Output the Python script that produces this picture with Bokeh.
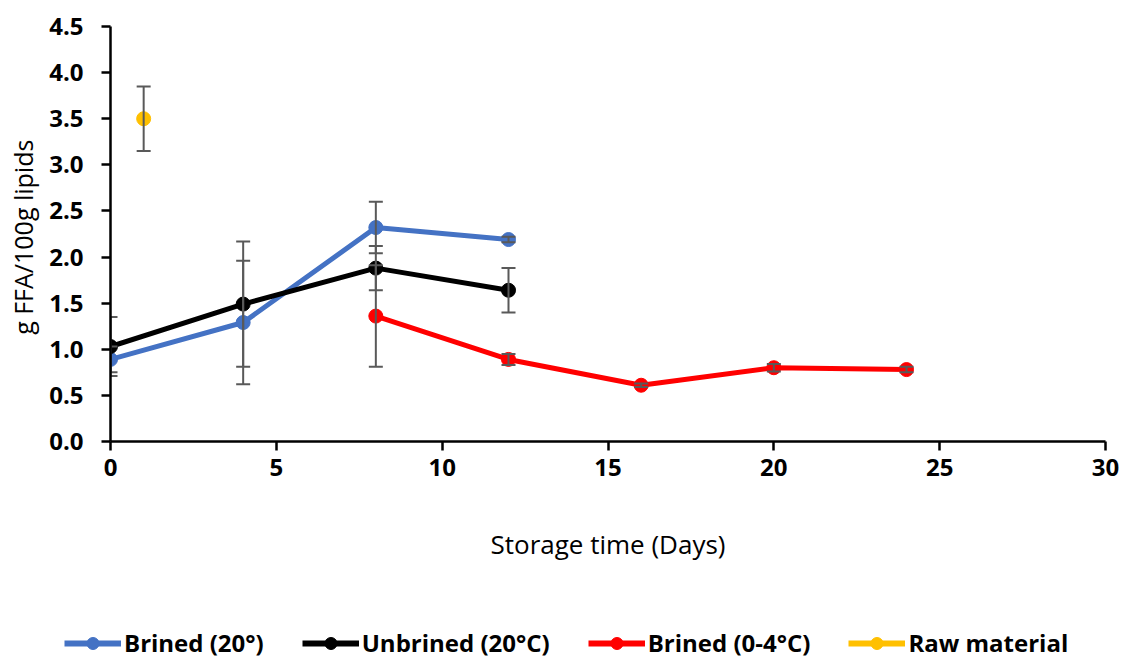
from bokeh.plotting import figure
from bokeh.layouts import column, row
from bokeh.models import (ColumnDataSource, Whisker, Legend, LegendItem, Range1d,
                          FixedTicker, TeeHead, NumeralTickFormatter)
from bokeh.embed import file_html
from bokeh.resources import INLINE

# Data
brined20_x = [0, 4, 8, 12]
brined20_y = [0.89, 1.29, 2.32, 2.19]
brined20_err = [0.14, 0.67, 0.28, 0.03]

unbrined_x = [0, 4, 8, 12]
unbrined_y = [1.03, 1.49, 1.88, 1.64]
unbrined_err = [0.32, 0.68, 0.24, 0.24]

brined04_x = [8, 12, 16, 20, 24]
brined04_y = [1.36, 0.89, 0.61, 0.80, 0.78]
brined04_err = [0.55, 0.06, 0.02, 0.04, 0.03]

raw_x = [1]
raw_y = [3.50]
raw_err = [0.35]

x_ticks = [0, 5, 10, 15, 20, 25, 30]
y_ticks = [0, 0.5, 1, 1.5, 2, 2.5, 3, 3.5, 4, 4.5]

series = [
    ("Brined (20°)", brined20_x, brined20_y, brined20_err, "#4472C4", True),
    ("Unbrined (20°C)", unbrined_x, unbrined_y, unbrined_err, "#000000", True),
    ("Brined (0-4°C)", brined04_x, brined04_y, brined04_err, "#FF0000", True),
    ("Raw material", raw_x, raw_y, raw_err, "#FFC000", False),
]

FONT = "Open Sans"
MAIN_H = 600

p = figure(width=1122, height=MAIN_H, output_backend="svg", toolbar_location=None,
           x_range=Range1d(0, 30), y_range=Range1d(0, 4.5),
           min_border_left=110, min_border_right=17, min_border_top=26,
           min_border_bottom=MAIN_H - 441)
p.outline_line_color = None
p.xgrid.grid_line_color = None
p.ygrid.grid_line_color = None

for ax in (p.xaxis, p.yaxis):
    ax.axis_line_color = "black"
    ax.axis_line_width = 2.5
    ax.major_tick_line_color = "black"
    ax.major_tick_line_width = 2.5
    ax.major_tick_out = 9
    ax.major_tick_in = 0
    ax.minor_tick_line_color = None
    ax.major_label_text_font = FONT
    ax.major_label_text_font_style = "bold"
    ax.major_label_text_font_size = "24px"
    ax.major_label_text_color = "black"
    ax.axis_label_text_font = FONT
    ax.axis_label_text_font_style = "normal"
    ax.axis_label_text_color = "black"

p.xaxis.ticker = FixedTicker(ticks=x_ticks)
p.yaxis.ticker = FixedTicker(ticks=y_ticks)
p.yaxis.formatter = NumeralTickFormatter(format="0.0")
p.xaxis.axis_label = "Storage time (Days)"
p.xaxis.axis_label_text_font_size = "26px"
p.xaxis.axis_label_standoff = 47
p.yaxis.axis_label = "g FFA/100g  lipids"
p.yaxis.axis_label_text_font_size = "25px"
p.yaxis.axis_label_standoff = 6
p.xaxis.major_label_standoff = 8
p.yaxis.major_label_standoff = 18

# legend strip
q = figure(width=1122, height=659 - MAIN_H, output_backend="svg", toolbar_location=None,
           x_range=Range1d(0, 1), y_range=Range1d(0, 1),
           min_border_left=0, min_border_right=0, min_border_top=0, min_border_bottom=0,
           x_axis_location=None, y_axis_location=None)
q.outline_line_color = None
q.xgrid.grid_line_color = None
q.ygrid.grid_line_color = None

items = []
for name, xs, ys, errs, color, has_line in series:
    src = ColumnDataSource(dict(x=xs, y=ys,
                                upper=[a + b for a, b in zip(ys, errs)],
                                lower=[a - b for a, b in zip(ys, errs)]))
    w = Whisker(base="x", upper="upper", lower="lower", source=src,
                line_color="#595959", line_width=2,
                upper_head=TeeHead(size=14, line_color="#595959", line_width=2),
                lower_head=TeeHead(size=14, line_color="#595959", line_width=2),
                level="glyph")
    p.add_layout(w)
    if has_line:
        p.line("x", "y", source=src, line_color=color, line_width=5)
    p.scatter("x", "y", source=src, size=14, fill_color=color, line_color=color)

    off = ColumnDataSource(dict(x=[-5, -4], y=[-5, -5]))
    r1 = q.line("x", "y", source=off, line_color=color, line_width=6)
    r2 = q.scatter("x", "y", source=off, size=13, fill_color=color, line_color=color)
    items.append(LegendItem(label=name, renderers=[r1, r2], index=0))

legend = Legend(items=items, orientation="horizontal", location=(64, 0),
                label_text_font=FONT, label_text_font_style="bold",
                label_text_font_size="24px", label_text_color="black",
                glyph_width=57, glyph_height=30, label_standoff=3, spacing=38,
                border_line_color=None, background_fill_alpha=0,
                padding=0, margin=0)
q.add_layout(legend, "center")

open("out.html", "w").write(file_html(column(p, row(q), spacing=0), INLINE))
